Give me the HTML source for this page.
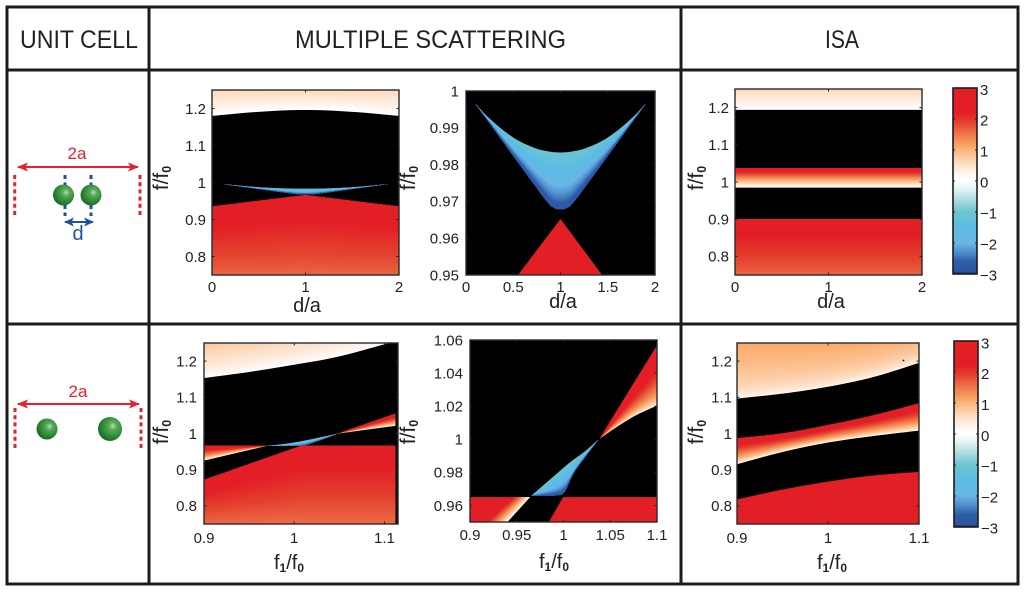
<!DOCTYPE html>
<html lang="en">
<head>
<meta charset="utf-8">
<title>Unit cell, multiple scattering and ISA maps</title>
<style>
html,body{margin:0;padding:0;background:#fff;width:1024px;height:592px;overflow:hidden}
svg{display:block;font-family:"Liberation Sans",sans-serif;fill:#222}
</style>
</head>
<body>
<svg id="figure" xmlns="http://www.w3.org/2000/svg" width="1024" height="592" viewBox="0 0 1024 592">
<defs>
<radialGradient id="sphere" cx="0.62" cy="0.38" r="0.68">
<stop offset="0" stop-color="#b9dcb4"/><stop offset="0.25" stop-color="#5aa85a"/><stop offset="0.65" stop-color="#2b8a34"/><stop offset="1" stop-color="#1b6426"/>
</radialGradient>
<marker id="red-head" markerWidth="11" markerHeight="9" refX="10" refY="4.5" orient="auto-start-reverse" markerUnits="userSpaceOnUse"><path d="M0 0L11 4.5L0 9L2.5 4.5Z" fill="#e8202a"/></marker>
<marker id="blue-head" markerWidth="10" markerHeight="9" refX="9" refY="4.5" orient="auto-start-reverse" markerUnits="userSpaceOnUse"><path d="M0 0L10 4.5L0 9L2.5 4.5Z" fill="#1f4f9e"/></marker>
</defs>

<g id="table-frame" stroke="#1c1c1c" stroke-width="3" fill="none">
<line x1="5.5" y1="7" x2="1019.5" y2="7"/>
<line x1="5.5" y1="70" x2="1019.5" y2="70"/>
<line x1="5.5" y1="324" x2="1019.5" y2="324"/>
<line x1="5.5" y1="584" x2="1019.5" y2="584"/>
<line x1="7" y1="5.5" x2="7" y2="585.5"/>
<line x1="149" y1="5.5" x2="149" y2="585.5"/>
<line x1="681" y1="5.5" x2="681" y2="585.5"/>
<line x1="1018" y1="5.5" x2="1018" y2="585.5"/>
</g>

<text x="20" y="48" font-size="25" textLength="118" lengthAdjust="spacingAndGlyphs">UNIT CELL</text>
<text x="295" y="48" font-size="25" textLength="271" lengthAdjust="spacingAndGlyphs">MULTIPLE SCATTERING</text>
<text x="825" y="48" font-size="25" textLength="34" lengthAdjust="spacingAndGlyphs">ISA</text>

<g id="unit-cell-top">
<line x1="14.7" y1="175" x2="14.7" y2="217" stroke="#e8202a" stroke-width="3" stroke-dasharray="4 3.2"/>
<line x1="140" y1="175" x2="140" y2="217" stroke="#e8202a" stroke-width="3" stroke-dasharray="4 3.2"/>
<line x1="18" y1="167" x2="138" y2="167" stroke="#e8202a" stroke-width="2" marker-start="url(#red-head)" marker-end="url(#red-head)"/>
<text x="77" y="159" font-size="17" text-anchor="middle" style="fill:#e8202a">2a</text>
<line x1="65" y1="175" x2="65" y2="216" stroke="#1f4f9e" stroke-width="3" stroke-dasharray="4 3.5"/>
<line x1="91" y1="175" x2="91" y2="216" stroke="#1f4f9e" stroke-width="3" stroke-dasharray="4 3.5"/>
<circle cx="63.5" cy="195" r="10.5" fill="url(#sphere)"/>
<circle cx="91" cy="195" r="10.5" fill="url(#sphere)"/>
<line x1="65" y1="222" x2="93" y2="222" stroke="#1f4f9e" stroke-width="2" marker-start="url(#blue-head)" marker-end="url(#blue-head)"/>
<text x="78" y="240" font-size="20" text-anchor="middle" style="fill:#1f4f9e">d</text>
</g>

<g id="unit-cell-bottom">
<line x1="15" y1="408" x2="15" y2="450" stroke="#e8202a" stroke-width="3" stroke-dasharray="4 3.2"/>
<line x1="141" y1="408" x2="141" y2="450" stroke="#e8202a" stroke-width="3" stroke-dasharray="4 3.2"/>
<line x1="18" y1="404" x2="139" y2="404" stroke="#e8202a" stroke-width="2" marker-start="url(#red-head)" marker-end="url(#red-head)"/>
<text x="78" y="397" font-size="17" text-anchor="middle" style="fill:#e8202a">2a</text>
<circle cx="47" cy="429" r="10.5" fill="url(#sphere)"/>
<circle cx="110" cy="429" r="12" fill="url(#sphere)"/>
</g>

<g id="plots"></g>

<g id="axis-titles" font-size="20">
<text x="307" y="312" text-anchor="middle">d/a</text>
<text x="563" y="308" text-anchor="middle">d/a</text>
<text x="831" y="308" text-anchor="middle">d/a</text>
<text x="289" y="569" text-anchor="middle">f<tspan dy="3" font-size="12" font-weight="bold">1</tspan><tspan dy="-3">/f</tspan><tspan dy="3" font-size="12" font-weight="bold">0</tspan></text>
<text x="554" y="568" text-anchor="middle">f<tspan dy="3" font-size="12" font-weight="bold">1</tspan><tspan dy="-3">/f</tspan><tspan dy="3" font-size="12" font-weight="bold">0</tspan></text>
<text x="832" y="569" text-anchor="middle">f<tspan dy="3" font-size="12" font-weight="bold">1</tspan><tspan dy="-3">/f</tspan><tspan dy="3" font-size="12" font-weight="bold">0</tspan></text>
<text transform="translate(168 178) rotate(-90)" text-anchor="middle" font-size="21">f/f<tspan dy="3" font-size="12.5" font-weight="bold">0</tspan></text>
<text transform="translate(415 178) rotate(-90)" text-anchor="middle" font-size="21">f/f<tspan dy="3" font-size="12.5" font-weight="bold">0</tspan></text>
<text transform="translate(703 178) rotate(-90)" text-anchor="middle" font-size="21">f/f<tspan dy="3" font-size="12.5" font-weight="bold">0</tspan></text>
<text transform="translate(168 432) rotate(-90)" text-anchor="middle" font-size="21">f/f<tspan dy="3" font-size="12.5" font-weight="bold">0</tspan></text>
<text transform="translate(415 432) rotate(-90)" text-anchor="middle" font-size="21">f/f<tspan dy="3" font-size="12.5" font-weight="bold">0</tspan></text>
<text transform="translate(703 432) rotate(-90)" text-anchor="middle" font-size="21">f/f<tspan dy="3" font-size="12.5" font-weight="bold">0</tspan></text>
</g>
<circle cx="903.5" cy="360.5" r="0.9" fill="#111"/>
</svg>

<script>
/* colour scale */
const scaleValues = [3, 2.2, 1.9, 1.6, 1.2, 1, 0.5, 0.1, 0, -0.3, -0.6, -1, -1.5, -2, -2.3, -2.6, -2.93, -3];
const scaleColours = ['#e31f26','#e31f26','#e4402f','#ed6b45','#f69c5e','#fbb57a','#fde3cd','#ffffff','#ffffff','#dff0f2','#b0dce0','#6cc4cf','#5bbde6','#69b5e4','#4e8fcf','#2f5ca8','#2d55a0','#1a2a50'];
const colourbarTicks = [3, 2, 1, 0, -1, -2, -3];

/* top row, d/a sweep */
const wideDaX = [0, 0.5, 1, 1.5, 2];
const wideDaUpperGap = [1.18, 1.191, 1.196, 1.191, 1.18];
const wideDaUpperTop = [1.25, 1.25, 1.25, 1.25, 1.25];
const redTentX = [0, 1, 2];
const redTentTop = [0.935, 0.966, 0.935];
const redTentBottom = [0.75, 0.75, 0.75];
const lensX = [0.1, 0.22, 0.4, 0.57, 0.75, 0.85, 0.92, 1, 1.08, 1.15, 1.25, 1.43, 1.6, 1.78, 1.9];
const lensUpper = [0.9965, 0.9932, 0.9892, 0.9863, 0.9843, 0.9837, 0.9834, 0.9833, 0.9834, 0.9837, 0.9843, 0.9863, 0.9892, 0.9932, 0.9965];
const lensLower = [0.9965, 0.9923, 0.9859, 0.9799, 0.9736, 0.9702, 0.9684, 0.9678, 0.9684, 0.9702, 0.9736, 0.9799, 0.9859, 0.9923, 0.9965];
const zoomTentX = [0.55, 1, 1.44];
const zoomTentTop = [0.95, 0.9652, 0.95];
const zoomTentBase = [0.95, 0.95, 0.95];

/* top row, ISA */
const isaDaX = [0, 2];
const isaUpperGap = [1.194, 1.194];
const isaTop = [1.25, 1.25];
const isaMidTop = [1.037, 1.037];
const isaMidBottom = [0.985, 0.985];
const isaLowerTop = [0.9, 0.9];
const isaBottom = [0.75, 0.75];

/* bottom row, f1/f0 sweep */
const wideFX = [0.9, 0.95, 1, 1.05, 1.105];
const wideFUpperGap = [1.153, 1.17, 1.19, 1.213, 1.25];
const wideFUpperTop = [1.25, 1.267, 1.287, 1.31, 1.347];
const wideFLowerX = [0.9, 1.008, 1.112];
const wideFLowerTop = [0.872, 0.966, 0.966];
const wideFLowerBottom = [0.75, 0.75, 0.75];
const wideFWedgeX = [0.9, 0.9695];
const wideFWedgeLower = [0.925, 0.966];
const wideFWedgeUpper = [0.966, 0.966];
const wideFRightX = [1.0485, 1.112];
const wideFRightLower = [1.0, 1.0212];
const wideFRightUpper = [1.0, 1.0544];
const wideFLensUpperX = [0.9695, 0.9952, 1.0246, 1.0485];
const wideFLensUpper = [0.9659, 0.9733, 0.9871, 1.0];
const wideFLensLowerX = [0.9695, 1.008, 1.0246, 1.0485];
const wideFLensLower = [0.9659, 0.9668, 0.9779, 1.0];

/* bottom row, zoomed f1/f0 */
const zoomLeftBlockBaseX = [0.9, 0.92];
const zoomLeftBlockTopX = [0.9, 0.95];
const zoomLeftBlockBase = [0.95, 0.95];
const zoomLeftBlockTop = [0.965, 0.965];
const zoomLeftEdgeX = [0.94, 0.9643];
const zoomLeftEdgeY = [0.95, 0.965];
const zoomLeftSideX = [0.915, 0.945];
const zoomLeftSideY = [0.95, 0.965];
const zoomRedBaseX = [0.9843, 1.1];
const zoomRedBaseY = [0.95, 0.95];
const zoomRedTopX = [0.9996, 1.1];
const zoomRedTopY = [0.965, 0.965];
const zoomWedgeX = [1.0389, 1.0604, 1.0782, 1.1];
const zoomWedgeLower = [1.0005, 1.0087, 1.0147, 1.0204];
const zoomWedgeUpper = [1.0005, 1.0202, 1.0365, 1.0564];
const zoomLensUpperX = [0.9657, 0.9889, 1.0068, 1.0225, 1.0371];
const zoomLensUpper = [0.9659, 0.9773, 0.986, 0.9925, 0.9997];
const zoomLensLowerX = [0.9657, 0.9925, 1.0014, 1.0121, 1.0371];
const zoomLensLower = [0.9659, 0.9661, 0.9685, 0.9806, 0.9997];

/* bottom row, ISA */
const isaFX = [0.9, 0.95, 1, 1.05, 1.1];
const isaFUpperGap = [1.0965, 1.11, 1.129, 1.156, 1.195];
const isaFTop = [1.25, 1.25, 1.25, 1.26, 1.28];
const isaFMidTop = [0.987, 1.0, 1.023, 1.05, 1.083];
const isaFMidBottom = [0.915, 0.949, 0.975, 0.993, 1.008];
const isaFLowerTop = [0.818, 0.845, 0.867, 0.884, 0.894];
const isaFBottom = [0.75, 0.75, 0.75, 0.75, 0.75];

/* tick labels */
const ticksDaCoarse = [0, 1, 2];
const ticksDaFine = [0, 0.5, 1, 1.5, 2];
const ticksFCoarse = [0.9, 1, 1.1];
const ticksFFine = [0.9, 0.95, 1, 1.05, 1.1];
const ticksYWide = [0.8, 0.9, 1, 1.1, 1.2];
const ticksYZoomTop = [0.95, 0.96, 0.97, 0.98, 0.99, 1];
const ticksYZoomBottom = [0.96, 0.98, 1, 1.02, 1.04, 1.06];

const SVGNS = 'http://www.w3.org/2000/svg';
const plots = document.getElementById('plots');

function hexToRgb(h){ return [1,3,5].map(i => parseInt(h.substr(i,2),16)); }
function colourFor(v){
  if (v >= scaleValues[0]) return scaleColours[0];
  for (let i = 0; i < scaleValues.length - 1; i++){
    if (v <= scaleValues[i] && v >= scaleValues[i+1]){
      const t = (scaleValues[i] - v) / (scaleValues[i] - scaleValues[i+1]);
      const a = hexToRgb(scaleColours[i]), b = hexToRgb(scaleColours[i+1]);
      return 'rgb(' + a.map((c,k) => Math.round(c + (b[k]-c)*t)).join(',') + ')';
    }
  }
  return scaleColours[scaleColours.length-1];
}

/* Catmull-Rom refinement so that curved band edges read as smooth curves */
function refine(pts){
  if (pts.length < 3) return pts;
  const out = [];
  for (let i = 0; i < pts.length - 1; i++){
    const p0 = pts[Math.max(i-1,0)], p1 = pts[i], p2 = pts[i+1], p3 = pts[Math.min(i+2,pts.length-1)];
    for (let s = 0; s < 8; s++){
      const u = s / 8, u2 = u*u, u3 = u2*u;
      out.push([0,1].map(k => 0.5*(2*p1[k] + (p2[k]-p0[k])*u + (2*p0[k]-5*p1[k]+4*p2[k]-p3[k])*u2 + (3*p1[k]-p0[k]-3*p2[k]+p3[k])*u3)));
    }
  }
  out.push(pts[pts.length-1]);
  return out;
}

function makePanel(name, box, xDom, yDom, xTicks, yTicks, opts){
  const g = document.createElementNS(SVGNS, 'g');
  
  
  plots.appendChild(g);
  const sx = x => box.l + (x - xDom[0]) / (xDom[1] - xDom[0]) * (box.r - box.l);
  const sy = y => box.b - (y - yDom[0]) / (yDom[1] - yDom[0]) * (box.b - box.t);
  const clip = document.createElementNS(SVGNS, 'clipPath');
  clip.setAttribute('id', name + '-clip');
  const cr = document.createElementNS(SVGNS, 'rect');
  cr.setAttribute('x', box.l); cr.setAttribute('y', box.t);
  cr.setAttribute('width', box.r - box.l); cr.setAttribute('height', box.b - box.t);
  clip.appendChild(cr);
  g.appendChild(clip);
  const bg = document.createElementNS(SVGNS, 'rect');
  
  
  bg.setAttribute('x', box.l); bg.setAttribute('y', box.t);
  bg.setAttribute('width', box.r - box.l); bg.setAttribute('height', box.b - box.t);
  bg.setAttribute('fill', '#000');
  g.appendChild(bg);
  const marks = document.createElementNS(SVGNS, 'g');
  
  
  marks.setAttribute('clip-path', 'url(#' + name + '-clip)');
  g.appendChild(marks);
  const border = document.createElementNS(SVGNS, 'rect');
  
  
  border.setAttribute('x', box.l); border.setAttribute('y', box.t);
  border.setAttribute('width', box.r - box.l); border.setAttribute('height', box.b - box.t);
  border.setAttribute('fill', 'none');
  border.setAttribute('stroke', '#2a2a2a');
  border.setAttribute('stroke-width', '1.4');
  g.appendChild(border);
  const tick = (x1,y1,x2,y2,n) => {
    const t = document.createElementNS(SVGNS, 'line');
    
    
    t.setAttribute('x1', x1); t.setAttribute('y1', y1); t.setAttribute('x2', x2); t.setAttribute('y2', y2);
    t.setAttribute('stroke', '#222'); t.setAttribute('stroke-width', '1');
    g.appendChild(t);
  };
  const label = (x,y,s,anchor,n) => {
    const t = document.createElementNS(SVGNS, 'text');
    
    
    t.setAttribute('x', x); t.setAttribute('y', y);
    t.setAttribute('text-anchor', anchor);
    t.setAttribute('font-size', '15');
    t.textContent = s;
    g.appendChild(t);
  };
  xTicks.forEach(v => {
    tick(sx(v), box.b, sx(v), box.b - 2.5, 'x-tick');
    tick(sx(v), box.t, sx(v), box.t + 2.5, 'x-tick-top');
    label(sx(v), box.b + opts.xGap, String(v), 'middle', 'x-tick-label');
  });
  yTicks.forEach(v => {
    tick(box.l, sy(v), box.l + 2.5, sy(v), 'y-tick');
    tick(box.r, sy(v), box.r - 2.5, sy(v), 'y-tick-right');
    label(box.l - opts.yGap, sy(v) + 5.3, String(v), 'end', 'y-tick-label');
  });
  return {marks, sx, sy};
}

/* A region lies between edge A (value vA) and edge B (value vB). Levels are painted
   back to front, each reaching all the way to edge B, so no seams show through. */
function region(p, name, ax, ay, bx, by, vA, vB, gamma, levels, smooth){
  const g = document.createElementNS(SVGNS, 'g');
  
  
  p.marks.appendChild(g);
  let edgeA = ax.map((x,i) => [p.sx(x), p.sy(ay[i])]);
  let edgeB = bx.map((x,i) => [p.sx(x), p.sy(by[i])]);
  if (smooth){
    edgeA = refine(edgeA);
    edgeB = refine(edgeB);
  }
  const edge = t => edgeA.map((q,i) => [q[0] + (edgeB[i][0]-q[0])*t, q[1] + (edgeB[i][1]-q[1])*t]);
  for (let k = 0; k < levels; k++){
    const t0 = k / levels, t1 = (k + 1) / levels;
    const v = vA + (vB - vA) * Math.pow((t0 + t1) / 2, gamma);
    const pts = edge(t0).concat(edgeB.slice().reverse());
    const poly = document.createElementNS(SVGNS, 'polygon');
    
    
    poly.setAttribute('points', pts.map(q => q[0].toFixed(2) + ',' + q[1].toFixed(2)).join(' '));
    poly.setAttribute('fill', colourFor(v));
    g.appendChild(poly);
  }
}

function colourbar(name, box, topY, botY, labelX){
  const g = document.createElementNS(SVGNS, 'g');
  
  
  plots.appendChild(g);
  const n = 93;
  const h = (box.b - box.t) / n;
  for (let i = 0; i < n; i++){
    const v = 3 - 6 * (i + 0.5) / n;
    const r = document.createElementNS(SVGNS, 'rect');
    
    
    r.setAttribute('x', box.l); r.setAttribute('y', (box.t + i*h).toFixed(2));
    r.setAttribute('width', box.r - box.l); r.setAttribute('height', (h + 0.4).toFixed(2));
    r.setAttribute('fill', colourFor(v));
    g.appendChild(r);
  }
  const f = document.createElementNS(SVGNS, 'rect');
  
  
  f.setAttribute('x', box.l); f.setAttribute('y', box.t);
  f.setAttribute('width', box.r - box.l); f.setAttribute('height', box.b - box.t);
  f.setAttribute('fill', 'none'); f.setAttribute('stroke', '#1c1c1c'); f.setAttribute('stroke-width', '1.6');
  g.appendChild(f);
  colourbarTicks.forEach(v => {
    const y = box.t + (3 - v) / 6 * (box.b - box.t);
    [[box.l, box.l + 2],[box.r - 2, box.r]].forEach(s => {
      const l = document.createElementNS(SVGNS, 'line');
      
      
      l.setAttribute('x1', s[0]); l.setAttribute('x2', s[1]); l.setAttribute('y1', y); l.setAttribute('y2', y);
      l.setAttribute('stroke', '#222'); l.setAttribute('stroke-width', '1');
      g.appendChild(l);
    });
    const ly = topY + (3 - v) / 6 * (botY - topY);
    const t = document.createElementNS(SVGNS, 'text');
    
    
    t.setAttribute('x', labelX); t.setAttribute('y', ly + 5.3);
    t.setAttribute('font-size', '15');
    t.textContent = v < 0 ? '\u2212' + Math.abs(v) : String(v);
    g.appendChild(t);
  });
}

const LV = 40;
const RED = 2.5;

/* Panel: multiple scattering, d/a, wide */
const p1 = makePanel('ms-wide-top', {l:212,r:399,t:90,b:275}, [0,2], [0.75,1.25], ticksDaCoarse, ticksYWide, {xGap:17,yGap:6});
region(p1, 'upper-band', wideDaX, wideDaUpperGap, wideDaX, wideDaUpperTop, 0.1, 0.62, 1, LV, true);
region(p1, 'lower-band', redTentX, redTentBottom, redTentX, redTentTop, 1.65, 2.45, 1, LV, false);
region(p1, 'blue-lens', lensX, lensUpper, lensX, lensLower, -1.05, -2.85, 1.2, 16, true);

/* Panel: multiple scattering, d/a, zoom */
const p2 = makePanel('ms-zoom-top', {l:466,r:655,t:91,b:275}, [0,2], [0.95,1], ticksDaFine, ticksYZoomTop, {xGap:17,yGap:7});
region(p2, 'blue-lens', lensX, lensUpper, lensX, lensLower, -1.05, -2.85, 1.2, LV, true);
region(p2, 'red-tip', zoomTentX, zoomTentBase, zoomTentX, zoomTentTop, RED, RED, 1, 1, false);

/* Panel: ISA, d/a */
const p3 = makePanel('isa-top', {l:735,r:922,t:89,b:275}, [0,2], [0.75,1.25], ticksDaCoarse, ticksYWide, {xGap:17,yGap:6});
region(p3, 'upper-band', isaDaX, isaUpperGap, isaDaX, isaTop, 0.1, 0.62, 1, LV, false);
region(p3, 'middle-band', isaDaX, isaMidBottom, isaDaX, isaMidTop, 0.1, 2.6, 1, LV, false);
region(p3, 'lower-band', isaDaX, isaBottom, isaDaX, isaLowerTop, 1.65, 2.45, 1, LV, false);
colourbar('colourbar-top', {l:953,r:977,t:88,b:274}, 89.5, 275, 980);

/* Panel: multiple scattering, f1/f0, wide */
const p4 = makePanel('ms-wide-bottom', {l:204,r:398,t:343,b:524}, [0.9,1.115], [0.75,1.25], ticksFCoarse, ticksYWide, {xGap:19,yGap:7});
region(p4, 'upper-band', wideFX, wideFUpperGap, wideFX, wideFUpperTop, 0.1, 0.78, 0.75, LV, true);
region(p4, 'lower-band', wideFLowerX, wideFLowerBottom, wideFLowerX, wideFLowerTop, 1.6, 2.45, 1, LV, false);
region(p4, 'left-wedge', wideFWedgeX, wideFWedgeLower, wideFWedgeX, wideFWedgeUpper, 0.1, 2.7, 0.7, 24, false);
region(p4, 'right-wedge', wideFRightX, wideFRightLower, wideFRightX, wideFRightUpper, 0.1, 2.7, 0.7, 24, false);
region(p4, 'blue-lens', wideFLensUpperX, wideFLensUpper, wideFLensLowerX, wideFLensLower, -1.05, -2.85, 1.2, 14, true);

/* Panel: multiple scattering, f1/f0, zoom */
const p5 = makePanel('ms-zoom-bottom', {l:470,r:657,t:340,b:522}, [0.9,1.1], [0.95,1.06], ticksFFine, ticksYZoomBottom, {xGap:18,yGap:7});
region(p5, 'left-red-block', zoomLeftBlockBaseX, zoomLeftBlockBase, zoomLeftBlockTopX, zoomLeftBlockTop, RED, RED, 1, 1, false);
region(p5, 'left-wedge', zoomLeftEdgeX, zoomLeftEdgeY, zoomLeftSideX, zoomLeftSideY, 0.1, 2.4, 0.8, LV, false);
region(p5, 'right-red-block', zoomRedBaseX, zoomRedBaseY, zoomRedTopX, zoomRedTopY, RED, RED, 1, 1, false);
region(p5, 'right-wedge', zoomWedgeX, zoomWedgeLower, zoomWedgeX, zoomWedgeUpper, 0.1, 2.9, 0.55, LV, true);
region(p5, 'blue-lens', zoomLensUpperX, zoomLensUpper, zoomLensLowerX, zoomLensLower, -1.05, -2.85, 1.2, LV, true);

/* Panel: ISA, f1/f0 */
const p6 = makePanel('isa-bottom', {l:737,r:919,t:343,b:524}, [0.9,1.1], [0.75,1.25], ticksFCoarse, ticksYWide, {xGap:19,yGap:5});
region(p6, 'upper-band', isaFX, isaFUpperGap, isaFX, isaFTop, 0.1, 1.1, 0.42, LV, true);
region(p6, 'middle-band', isaFX, isaFMidBottom, isaFX, isaFMidTop, 0.1, 2.7, 0.7, LV, true);
region(p6, 'lower-band', isaFX, isaFBottom, isaFX, isaFLowerTop, RED, RED, 1, 1, true);
colourbar('colourbar-bottom', {l:954,r:978,t:341,b:527}, 343, 528, 981);
</script>
</body>
</html>
